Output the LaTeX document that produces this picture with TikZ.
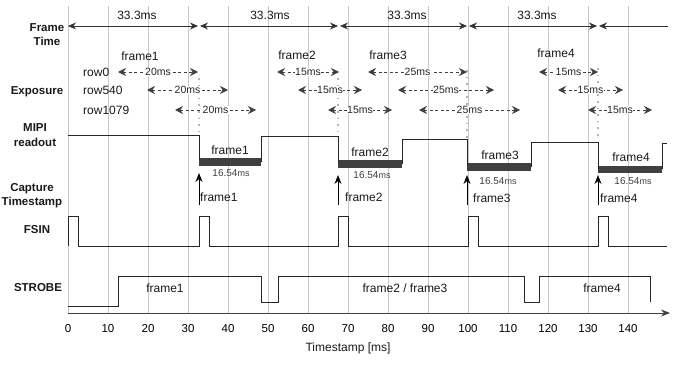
\documentclass[tikz,border=0pt]{standalone}
\usepackage{fontspec}
\setmainfont{Liberation Sans}
\usetikzlibrary{arrows.meta}
\definecolor{gridc}{HTML}{C8C8C8}
\definecolor{darkc}{HTML}{404040}
\definecolor{dotc}{HTML}{B4B4B4}
\tikzset{
 gridln/.style={gridc, line width=0.8pt},
 sig/.style={black!85, line width=0.8pt},
 barfill/.style={fill=darkc},
 ftarrow/.style={black!80, line width=0.8pt},
 expo/.style={darkc, line width=0.8pt, dash pattern=on 3pt off 2.5pt, {Stealth[length=8pt,width=8pt]}-{Stealth[length=8pt,width=8pt]}},
 explbl/.style={fill=white, inner sep=0.5pt, font=\fontsize{10.5}{12}\selectfont, text=black!85},
 lbl/.style={font=\fontsize{11.5}{14}\selectfont\bfseries, align=center, text=black!90},
 txt/.style={font=\fontsize{12}{14}\selectfont, text=black!90, inner sep=0pt},
 smalltxt/.style={font=\fontsize{10}{12}\selectfont, text=black!75, inner sep=0pt},
 caparrow/.style={black, line width=1pt, -{Stealth[length=9pt,width=7pt]}},
 dotln/.style={dotc, line width=1.6pt, dash pattern=on 1.6pt off 5pt},
 axisln/.style={black!75, line width=0.8pt, -{Stealth[length=9pt,width=7pt]}},
}
\newcommand\exparr[5]{%
 \coordinate (#1a) at (#2,#4); \coordinate (#1b) at (#3,#4);
 \draw[expo] (#1a) -- node[explbl] (#1l) {#5} (#1b);}
\newcommand\durtxt{16.54{\fontsize{9}{11}\selectfont ms}}
\begin{document}
\begin{tikzpicture}[x=1pt,y=-1pt]
\useasboundingbox (0,0) rectangle (677,364);
% grid
\foreach \k in {0,...,14}{
  \draw[gridln] (68+40*\k,6) -- (68+40*\k,313);
}
% dotted
\draw[dotln] (199,78) -- (199,134);
\draw[dotln] (338,78) -- (338,135);
\draw[dotln] (467,70) -- (467,138);
\draw[dotln] (598,68) -- (598,140);
% left labels
\node[lbl] (lft) at (47,35) {Frame\\Time};
\node[lbl] (lexp) at (37,92) {Exposure};
\node[lbl] (lmipi) at (35,135) {MIPI\\[1pt]readout};
\node[lbl] (lcap) at (32,196) {Capture\\Timestamp};
\node[lbl] (lfsin) at (37,230) {FSIN};
\node[lbl] (lstr) at (38,288) {STROBE};
% frame time
\coordinate (ft0) at (68,26); \coordinate (ft1a) at (198,26); \coordinate (ft1b) at (200,26);
\coordinate (ft2a) at (338,26); \coordinate (ft2b) at (340,26);
\coordinate (ft3a) at (467,26); \coordinate (ft3b) at (469,26);
\coordinate (ft4a) at (597,26); \coordinate (ft4b) at (599,26);
\coordinate (ftE) at (668,26);
\draw[ftarrow,{Stealth[length=8pt,width=7pt]}-{Stealth[length=8pt,width=7pt]}] (ft0) -- (ft1a);
\draw[ftarrow,{Stealth[length=8pt,width=7pt]}-{Stealth[length=8pt,width=7pt]}] (ft1b) -- (ft2a);
\draw[ftarrow,{Stealth[length=8pt,width=7pt]}-{Stealth[length=8pt,width=7pt]}] (ft2b) -- (ft3a);
\draw[ftarrow,{Stealth[length=8pt,width=7pt]}-{Stealth[length=8pt,width=7pt]}] (ft3b) -- (ft4a);
\draw[ftarrow,{Stealth[length=8pt,width=7pt]}-] (ft4b) -- (ftE);
\node[txt] (t1) at (137,15) {33.3ms};
\node[txt] (t2) at (270,15) {33.3ms};
\node[txt] (t3) at (407,15) {33.3ms};
\node[txt] (t4) at (537,15) {33.3ms};
% exposure
\node[txt] (ef1) at (140,56) {frame1};
\node[txt] (ef2) at (297,55) {frame2};
\node[txt] (ef3) at (388,55) {frame3};
\node[txt] (ef4) at (556,53) {frame4};
\node[txt,anchor=west] (r0) at (83,72) {row0};
\node[txt,anchor=west] (r540) at (83,90) {row540};
\node[txt,anchor=west] (r1079) at (83,110) {row1079};
\exparr{aA}{118}{198}{72}{20ms}
\exparr{aB}{147}{228}{90}{20ms}
\exparr{aC}{175}{256}{110}{20ms}
\exparr{bA}{277}{339}{72}{15ms}
\exparr{bB}{298}{362}{90}{15ms}
\exparr{bC}{328}{392}{110}{15ms}
\exparr{cA}{368}{467}{72}{25ms}
\exparr{cB}{398}{494}{90}{25ms}
\exparr{cC}{419}{520}{110}{25ms}
\exparr{dA}{539}{598}{72}{15ms}
\exparr{dB}{558}{623}{90}{15ms}
\exparr{dC}{588}{652}{110}{15ms}
% MIPI
\fill[barfill] (199,158) rectangle (261,166);
\fill[barfill] (338,160) rectangle (402,168);
\fill[barfill] (467,163) rectangle (531,171);
\fill[barfill] (598,166) rectangle (662,173);
\draw[sig] (68,135) -- (199,135) -- (199,160);
\draw[sig] (261,162) -- (261,136) -- (338,136) -- (338,163);
\draw[sig] (402,164) -- (402,139) -- (467,139) -- (467,166);
\draw[sig] (531,167) -- (531,142) -- (598,142) -- (598,169);
\draw[sig] (662,169) -- (662,143) -- (667,143);
\node[txt] (m1) at (230,150) {frame1};
\node[txt] (m2) at (370,152) {frame2};
\node[txt] (m3) at (500,155) {frame3};
\node[txt] (m4) at (631,157) {frame4};
\node[smalltxt] (d1) at (231,173) {\durtxt};
\node[smalltxt] (d2) at (372,175) {\durtxt};
\node[smalltxt] (d3) at (498,181) {\durtxt};
\node[smalltxt] (d4) at (633,181) {\durtxt};
% capture
\coordinate (c1a) at (199,205); \coordinate (c1b) at (199,173);
\coordinate (c2a) at (338,205); \coordinate (c2b) at (338,175);
\coordinate (c3a) at (467,205); \coordinate (c3b) at (467,175);
\coordinate (c4a) at (598,205); \coordinate (c4b) at (598,175);
\draw[caparrow] (c1a) -- (c1b);
\draw[caparrow] (c2a) -- (c2b);
\draw[caparrow] (c3a) -- (c3b);
\draw[caparrow] (c4a) -- (c4b);
\node[txt,anchor=west] (cl1) at (200,197) {frame1};
\node[txt,anchor=west] (cl2) at (345,197) {frame2};
\node[txt,anchor=west] (cl3) at (473,198) {frame3};
\node[txt,anchor=west] (cl4) at (600,198) {frame4};
% FSIN
\draw[sig] (68,246) -- (68,216) -- (78,216) -- (78,246) -- (199,246) -- (199,216) -- (209,216) -- (209,246)
  -- (338,246) -- (338,216) -- (348,216) -- (348,246) -- (468,246) -- (468,216) -- (478,216) -- (478,246)
  -- (598,246) -- (598,216) -- (608,216) -- (608,246) -- (667,246);
% STROBE
\draw[sig] (68,306) -- (118,306) -- (118,276) -- (261,276) -- (261,302) -- (278,302) -- (278,276)
  -- (524,276) -- (524,302) -- (539,302) -- (539,276) -- (650,276) -- (650,302);
\node[txt] (s1) at (165,288) {frame1};
\node[txt] (s2) at (405,288) {frame2 / frame3};
\node[txt] (s3) at (602,288) {frame4};
% axis
\coordinate (ax0) at (68,313); \coordinate (ax1) at (670,313);
\draw[axisln] (ax0) -- (ax1);
\foreach \k in {0,...,14}{
  \pgfmathtruncatemacro\v{10*\k}
  \node[font=\fontsize{11.5}{13}\selectfont, inner sep=0pt] (tk\k) at (68+40*\k,329) {\v};
}
\node[txt] (axl) at (348,348) {Timestamp [ms]};
\end{tikzpicture}
\end{document}
